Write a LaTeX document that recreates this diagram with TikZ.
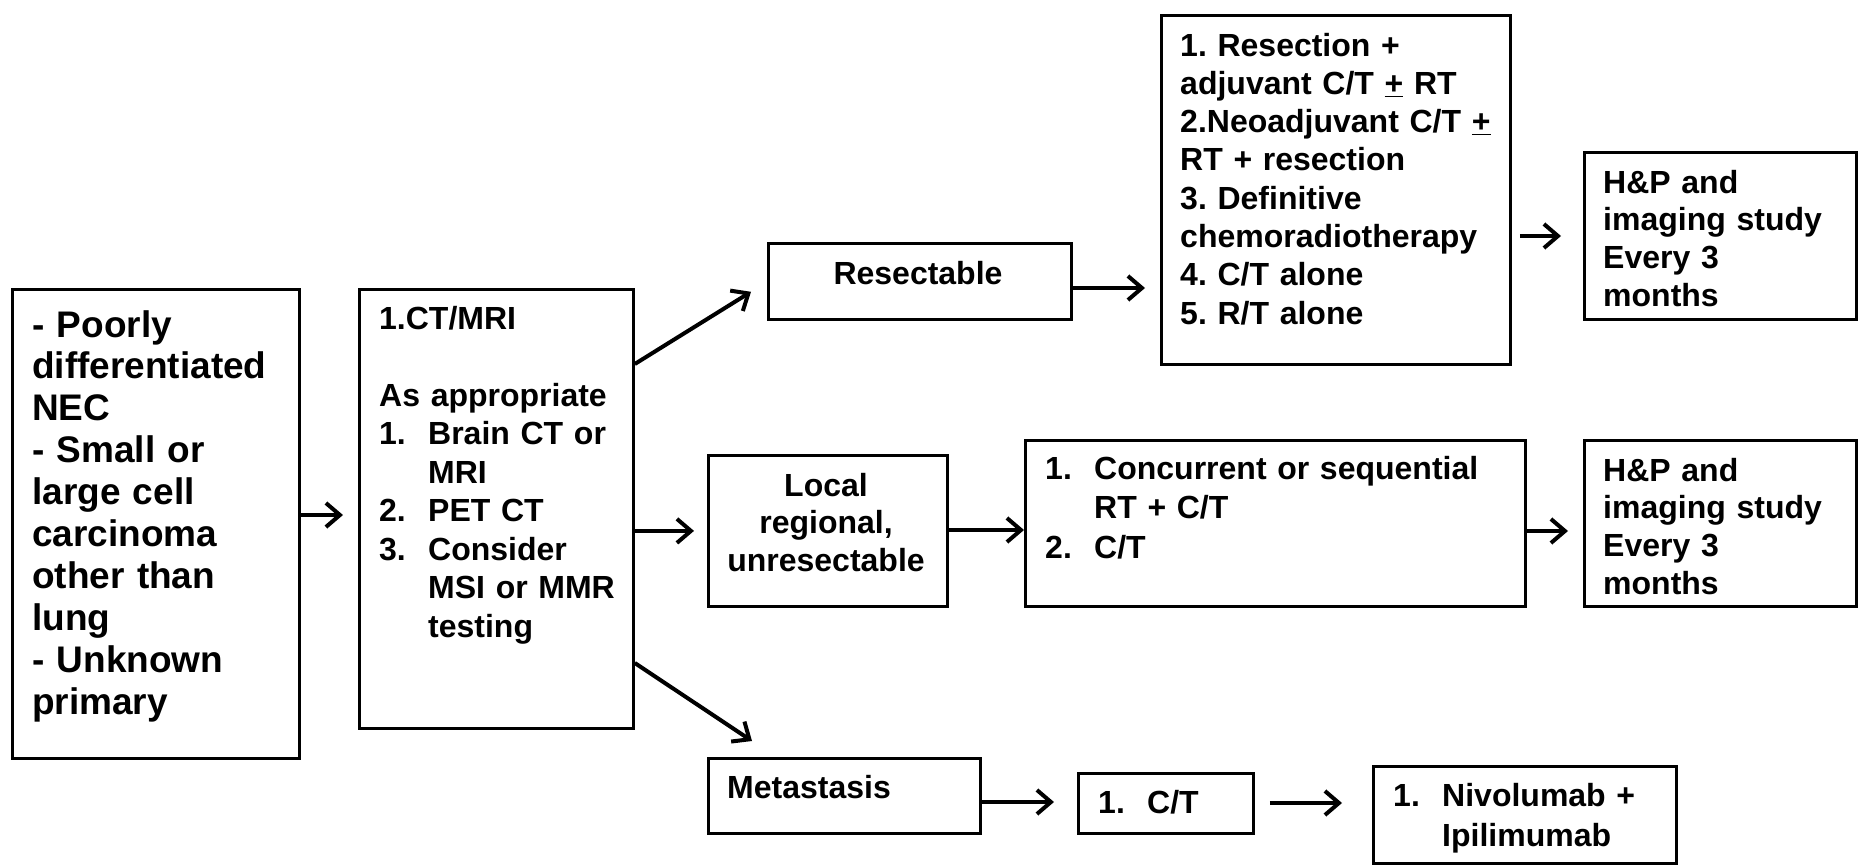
\documentclass[tikz,border=0pt]{standalone}
\usepackage{fontspec}
\setmainfont{Liberation Sans}
\usetikzlibrary{arrows.meta,calc}
\newcommand{\itm}[1]{\makebox[49pt][l]{#1}}
\newcommand{\ind}{\hspace*{49pt}}
\frenchspacing
\begin{document}
\begin{tikzpicture}[x=1pt,y=-1pt,
  box/.style={draw,line width=2.8pt,inner sep=0pt,anchor=north west},
  txt/.style={inner sep=0pt,anchor=base west,align=left,text width=#1,
    font=\fontsize{32}{38.4}\selectfont\bfseries},
  txt/.default=330pt,
  txtc/.style={inner sep=0pt,anchor=base,align=center,text width=#1,
    font=\fontsize{32}{37.5}\selectfont\bfseries},
  txtc/.default=300pt,
  arr/.style={line width=4pt,-{Straight Barb[length=14pt,width=24pt]}}]
\useasboundingbox[fill=white] (0,0) rectangle (1859,865);

% boxes
\node[box,minimum width=287pt,minimum height=469pt] (n1) at (11,288) {};
\node[box,minimum width=274pt,minimum height=439pt] (n2) at (358,288) {};
\node[box,minimum width=303pt,minimum height=76pt] (rs) at (767,242) {};
\node[box,minimum width=349pt,minimum height=349pt] (rx) at (1160,14) {};
\node[box,minimum width=272pt,minimum height=167pt] (hp1) at (1583,151) {};
\node[box,minimum width=239pt,minimum height=151pt] (lr) at (707,454) {};
\node[box,minimum width=500pt,minimum height=166pt] (cc) at (1024,439) {};
\node[box,minimum width=272pt,minimum height=166pt] (hp2) at (1583,439) {};
\node[box,minimum width=272pt,minimum height=75pt] (mt) at (707,757) {};
\node[box,minimum width=175pt,minimum height=60pt] (ct) at (1077,772) {};
\node[box,minimum width=303pt,minimum height=97pt] (nv) at (1372,765) {};

% texts
\node[txt=262pt,font=\fontsize{37}{41.9}\selectfont\bfseries] (t1) at (32,337)
  {- Poorly\\ differentiated\\ NEC\\ - Small or\\ large cell\\ carcinoma\\ other than\\ lung\\ - Unknown\\ primary};
\node[txt=250pt,font=\fontsize{32}{38.5}\selectfont\bfseries] (t2) at (379,329)
  {1.CT/MRI\\[38.5pt]As appropriate\\ \itm{1.}Brain CT or\\ \ind MRI\\ \itm{2.}PET CT\\ \itm{3.}Consider\\ \ind MSI or MMR\\ \ind testing};
\node[txtc=290pt] (trs) at (918,284) {Resectable};
\node[txt=325pt,font=\fontsize{32}{38.3}\selectfont\bfseries] (trx) at (1180,56)
  {1. Resection +\\ adjuvant C/T \underline{+} RT\\ 2.Neoadjuvant C/T \underline{+}\\ RT + resection\\ 3. Definitive\\ chemoradiotherapy\\ 4. C/T alone\\ 5. R/T alone};
\node[txt=245pt,font=\fontsize{32}{37.7}\selectfont\bfseries] (thp1) at (1603,193)
  {H\&P and\\ imaging study\\ Every 3\\ months};
\node[txtc=232pt] (tlr) at (826,496) {Local\\ regional,\\ unresectable};
\node[txt=470pt,font=\fontsize{32}{39.5}\selectfont\bfseries] (tcc) at (1045,479)
  {\itm{1.}Concurrent or sequential\\ \ind RT + C/T\\ \itm{2.}C/T};
\node[txt=245pt,font=\fontsize{32}{37.7}\selectfont\bfseries] (thp2) at (1603,481)
  {H\&P and\\ imaging study\\ Every 3\\ months};
\node[txt=240pt] (tmt) at (727,798) {Metastasis};
\node[txt=150pt] (tct) at (1098,813) {\itm{1.}C/T};
\node[txt=280pt,font=\fontsize{32}{40}\selectfont\bfseries] (tnv) at (1393,806)
  {\itm{1.}Nivolumab +\\ \ind Ipilimumab};

% connectors
\draw[arr,shorten >=15pt] (n1.east |- 0,515) -- (n2.west |- 0,515);
\draw[arr] (n2.east |- 0,364) -- ($(rs.south west)+(-16,-29)$);
\draw[arr,shorten >=13pt] (n2.east |- lr.west) -- (lr.west);
\draw[arr] (n2.east |- 0,663) -- ($(mt.north west)+(45,-16)$);
\draw[arr,shorten >=15pt] (rs.east |- 0,288) -- (rx.west |- 0,288);
\draw[arr,shorten <=8pt,shorten >=22pt] (rx.east |- 0,236) -- (hp1.west |- 0,236);
\draw[arr] (lr.east |- 0,530) -- (cc.west |- 0,530);
\draw[arr,shorten >=15pt] (cc.east |- 0,531) -- (hp2.west |- 0,531);
\draw[arr,shorten >=23pt] (mt.east |- 0,802) -- (ct.west |- 0,802);
\draw[arr,shorten <=15pt,shorten >=30pt] (ct.east |- 0,803) -- (nv.west |- 0,803);
\end{tikzpicture}
\end{document}
